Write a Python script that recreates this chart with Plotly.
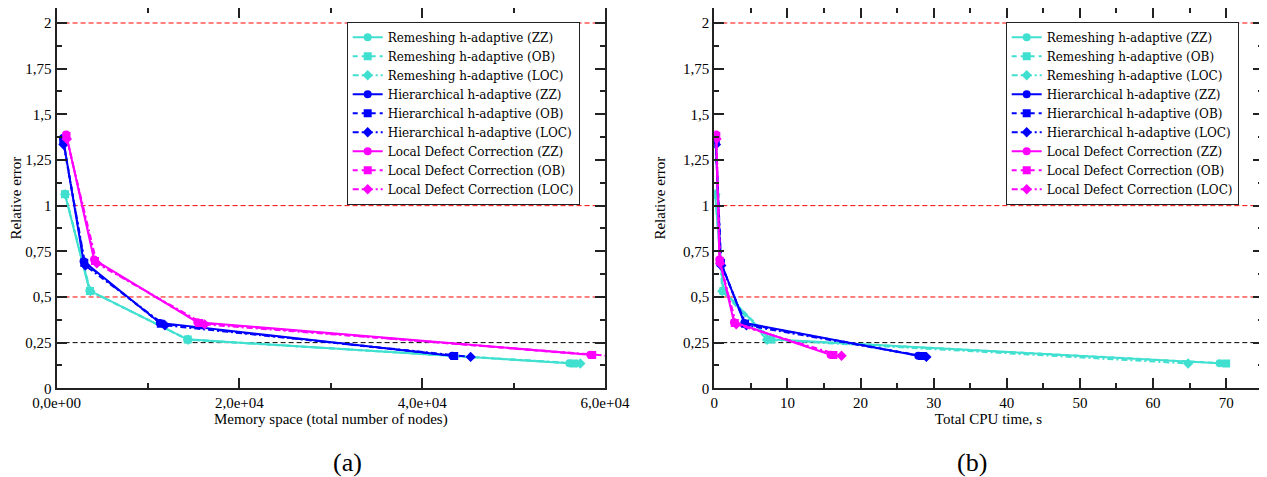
import plotly.graph_objects as go

# ---------------- data ----------------
series_names = [
    "Remeshing h-adaptive (ZZ)", "Remeshing h-adaptive (OB)", "Remeshing h-adaptive (LOC)",
    "Hierarchical h-adaptive (ZZ)", "Hierarchical h-adaptive (OB)", "Hierarchical h-adaptive (LOC)",
    "Local Defect Correction (ZZ)", "Local Defect Correction (OB)", "Local Defect Correction (LOC)",
]

# (a) memory space (total number of nodes)
mem_rem_zz = [900, 3600, 14300, 56100]
mem_rem_ob = [920, 3650, 14350, 56600]
mem_rem_loc = [940, 3700, 14400, 57300]
mem_hie_zz = [700, 2950, 11300, 43300]
mem_hie_ob = [730, 3030, 11400, 43500]
mem_hie_loc = [760, 3150, 11850, 45300]
mem_ldc_zz = [1050, 4100, 15400, 58400]
mem_ldc_ob = [1080, 4200, 15600, 58600]
mem_ldc_loc = [1120, 4400, 16200, 60500]

# (b) total CPU time, s
cpu_rem_zz = [0.10, 1.20, 7.6, 69.1]
cpu_rem_ob = [0.12, 1.25, 7.8, 70.0]
cpu_rem_loc = [0.15, 1.10, 7.2, 64.8]
cpu_hie_zz = [0.18, 0.85, 4.1, 27.9]
cpu_hie_ob = [0.20, 0.90, 4.2, 28.4]
cpu_hie_loc = [0.22, 0.95, 4.4, 29.0]
cpu_ldc_zz = [0.25, 0.70, 2.7, 15.9]
cpu_ldc_ob = [0.27, 0.75, 2.8, 16.3]
cpu_ldc_loc = [0.30, 0.80, 3.0, 17.4]

# relative error
err_rem_zz = [1.065, 0.535, 0.268, 0.137]
err_rem_ob = [1.063, 0.533, 0.267, 0.136]
err_rem_loc = [1.062, 0.532, 0.266, 0.136]
err_hie_zz = [1.370, 0.695, 0.358, 0.178]
err_hie_ob = [1.360, 0.688, 0.353, 0.177]
err_hie_loc = [1.335, 0.672, 0.345, 0.172]
err_ldc_zz = [1.390, 0.705, 0.362, 0.184]
err_ldc_ob = [1.382, 0.697, 0.358, 0.182]
err_ldc_loc = [1.365, 0.684, 0.350, 0.178]

mem_x = [mem_rem_zz, mem_rem_ob, mem_rem_loc, mem_hie_zz, mem_hie_ob, mem_hie_loc,
         mem_ldc_zz, mem_ldc_ob, mem_ldc_loc]
cpu_x = [cpu_rem_zz, cpu_rem_ob, cpu_rem_loc, cpu_hie_zz, cpu_hie_ob, cpu_hie_loc,
         cpu_ldc_zz, cpu_ldc_ob, cpu_ldc_loc]
err_y = [err_rem_zz, err_rem_ob, err_rem_loc, err_hie_zz, err_hie_ob, err_hie_loc,
         err_ldc_zz, err_ldc_ob, err_ldc_loc]

y_ticks = [0, 0.25, 0.5, 0.75, 1, 1.25, 1.5, 1.75, 2]
y_ticktext = ["0", "0,25", "0,5", "0,75", "1", "1,25", "1,5", "1,75", "2"]
mem_ticks = [0, 20000, 40000, 60000]
mem_ticktext = ["0,0e+00", "2,0e+04", "4,0e+04", "6,0e+04"]
cpu_ticks = [0, 10, 20, 30, 40, 50, 60, 70]
cpu_ticktext = ["0", "10", "20", "30", "40", "50", "60", "70"]

red_lines = [0.5, 1, 2]
black_lines = [0.25]

# ---------------- style ----------------
colors = ["#40E0D0"] * 3 + ["#0000FF"] * 3 + ["#FF00FF"] * 3
symbols = ["circle", "square", "diamond"] * 3
dashes = ["solid", "5px,4px", "6px,3px,2px,3px"] * 3
FONT = "Liberation Serif"
LEG_FONT = "DejaVu Serif"

fig = go.Figure()

for i, name in enumerate(series_names):
    fig.add_trace(go.Scatter(
        x=mem_x[i], y=err_y[i], name=name, mode="lines+markers",
        line=dict(color=colors[i], width=2, dash=dashes[i]),
        marker=dict(symbol=symbols[i], size=8, color=colors[i]),
        xaxis="x", yaxis="y", legend="legend",
    ))
for i, name in enumerate(series_names):
    fig.add_trace(go.Scatter(
        x=cpu_x[i], y=err_y[i], name=name, mode="lines+markers",
        line=dict(color=colors[i], width=2, dash=dashes[i]),
        marker=dict(symbol=symbols[i], size=8, color=colors[i]),
        xaxis="x2", yaxis="y2", legend="legend2",
    ))

# the page body has an 8px margin, so the figure origin is offset by (8, 8)
OFF = 8
W, H = 1267 - OFF, 477 - OFF


def px(v):
    return (v - OFF) / W


def py(v):
    return (H - (v - OFF)) / H


# y: 0 at page px 388.3, 2 at page px 23 ; plot top at the figure top (page px 8)
y_zero_px, y_two_px = 388.3, 23.0
y_top = 2 * (y_zero_px - OFF) / (y_zero_px - y_two_px)

dom_a = [px(56.6), px(605.0)]
dom_b = [px(714.3), px(1262.7)]
dom_y = [py(y_zero_px), 1.0]

axis_common = dict(
    showline=True, linecolor="#222222", linewidth=2, mirror="ticks",
    ticks="inside", ticklen=10, tickwidth=1.5, tickcolor="#222222",
    showgrid=False, zeroline=False, automargin=False,
    tickfont=dict(family=FONT, size=15, color="black"),
)
minor_common = dict(ticks="inside", ticklen=5, tickwidth=1.5, tickcolor="#222222")
legend_common = dict(xanchor="left", yanchor="top", bgcolor="white",
                     bordercolor="#222222", borderwidth=1,
                     font=dict(family=LEG_FONT, size=12, color="black"),
                     tracegroupgap=0, itemwidth=30)

fig.update_layout(
    width=W, height=H,
    margin=dict(l=0, r=0, t=0, b=0, autoexpand=False),
    paper_bgcolor="white", plot_bgcolor="white",
    font=dict(family=FONT, size=14, color="black"),
    xaxis=dict(domain=dom_a, anchor="y", range=[0, 60000],
               tickvals=mem_ticks, ticktext=mem_ticktext,
               minor=dict(tickvals=[10000, 30000, 50000], **minor_common),
               title=dict(text="Memory space (total number of nodes)",
                          font=dict(family=FONT, size=15), standoff=2),
               **axis_common),
    yaxis=dict(domain=dom_y, anchor="x", range=[0, y_top],
               tickvals=y_ticks, ticktext=y_ticktext,
               minor=dict(dtick=0.125, tick0=0, **minor_common),
               title=dict(text="Relative error", font=dict(family=FONT, size=15), standoff=14),
               **axis_common),
    xaxis2=dict(domain=dom_b, anchor="y2", range=[0, 75],
                tickvals=cpu_ticks, ticktext=cpu_ticktext,
                minor=dict(dtick=5, tick0=0, **minor_common),
                title=dict(text="Total CPU time, s", font=dict(family=FONT, size=15), standoff=2),
                **axis_common),
    yaxis2=dict(domain=dom_y, anchor="x2", range=[0, y_top],
                tickvals=y_ticks, ticktext=y_ticktext,
                minor=dict(dtick=0.125, tick0=0, **minor_common),
                title=dict(text="Relative error", font=dict(family=FONT, size=15), standoff=14),
                **axis_common),
    legend=dict(x=px(346.7), y=py(21.7), **legend_common),
    legend2=dict(x=px(1005.7), y=py(21.7), **legend_common),
    showlegend=True,
)

shapes = []
for xr, yr in (("x", "y"), ("x2", "y2")):
    for v in red_lines:
        shapes.append(dict(type="line", xref=f"{xr} domain", yref=yr, x0=0, x1=1, y0=v, y1=v,
                           line=dict(color="#FF0000", width=1, dash="5px,3px"), layer="below"))
    for v in black_lines:
        shapes.append(dict(type="line", xref=f"{xr} domain", yref=yr, x0=0, x1=1, y0=v, y1=v,
                           line=dict(color="#000000", width=1, dash="5px,3px"), layer="below"))
fig.update_layout(shapes=shapes)

fig.add_annotation(text="(a)", xref="paper", yref="paper", x=px((56.6 + 605) / 2),
                   y=py(462), yanchor="middle", showarrow=False, font=dict(family=FONT, size=26))
fig.add_annotation(text="(b)", xref="paper", yref="paper", x=px((714.3 + 1262.7) / 2),
                   y=py(462), yanchor="middle", showarrow=False, font=dict(family=FONT, size=26))

fig.write_html("out.html")
